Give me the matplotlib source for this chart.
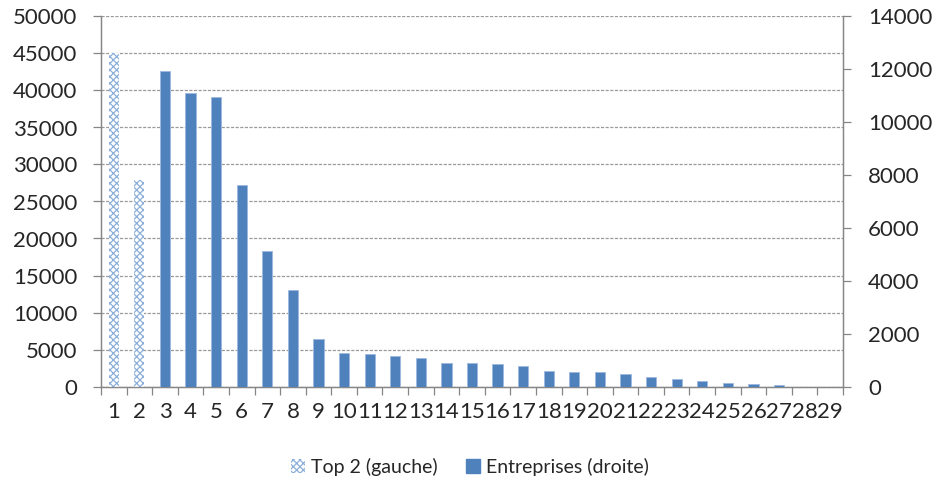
import matplotlib
matplotlib.use("Agg")
import matplotlib.pyplot as plt
from matplotlib.patches import Patch
import numpy as np

plt.rcParams['font.family'] = ['Lato', 'DejaVu Sans']
plt.rcParams['hatch.linewidth'] = 0.9

# Data
categories = list(range(1, 30))
top2_values = [45050, 27900]                      # left axis (categories 1-2)
entreprises_values = [11940, 11120, 10970, 7610, 5140, 3640, 1800, 1260, 1220,
                      1170, 1070, 880, 880, 840, 790, 590, 540, 540, 485, 350,
                      295, 200, 145, 95, 55, 0, 0]  # right axis (categories 3-29)
left_ticks = list(range(0, 50001, 5000))
right_ticks = list(range(0, 14001, 2000))

BLUE = '#4F81BD'
HATCH_BLUE = '#8DB0DB'
AXIS_GRAY = '#868686'
TEXT = '#262626'

fig = plt.figure(figsize=(9.4, 4.86), dpi=100)
ax = fig.add_axes([101/940, 1-386.5/486, (843-101)/940, 370/486])
ax2 = ax.twinx()

x_top2 = np.array(categories[:2])
x_ent = np.array(categories[2:])
width = 0.4

ax.bar(x_top2, top2_values, width=width, facecolor='white',
       edgecolor=HATCH_BLUE, hatch='xxxxx', linewidth=0, zorder=3)
ax2.bar(x_ent, entreprises_values, width=width, color=BLUE,
        edgecolor='#9DB9DD', linewidth=0.6, zorder=3)

ax.set_xlim(0.5, 29.5)
ax.set_ylim(0, 50000)
ax2.set_ylim(0, 14000)
ax.set_yticks(left_ticks)
ax2.set_yticks(right_ticks)

# Grid from the left axis
ax.yaxis.grid(True, linestyle=(0, (2.5, 1.2)), color='#9A9A9A', linewidth=0.9, zorder=0)
ax.set_axisbelow(True)

# Category labels with tick marks at category boundaries
ax.set_xticks(categories)
ax.set_xticklabels([str(c) for c in categories])
ax.set_xticks(np.arange(0.5, 29.6, 1), minor=True)
ax.tick_params(axis='x', which='major', length=0, pad=11, labelsize=16, labelcolor=TEXT)
ax.tick_params(axis='x', which='minor', length=6, width=0.9, color=AXIS_GRAY, direction='out')
ax.tick_params(axis='y', length=6, width=0.9, color=AXIS_GRAY, labelsize=16,
               labelcolor=TEXT, pad=11)
ax2.tick_params(axis='y', length=6, width=0.9, color=AXIS_GRAY, labelsize=16,
                labelcolor=TEXT, pad=12)

for a in (ax, ax2):
    a.spines['top'].set_visible(False)
    for s in ('left', 'right', 'bottom'):
        a.spines[s].set_color(AXIS_GRAY)
        a.spines[s].set_linewidth(0.9)

handles = [
    Patch(facecolor='white', edgecolor=HATCH_BLUE, hatch='xxxxx', linewidth=0,
          label='Top 2 (gauche)'),
    Patch(facecolor=BLUE, edgecolor=BLUE, label='Entreprises (droite)'),
]
fig.legend(handles=handles, loc='center', bbox_to_anchor=(0.5, 1-467/486),
           ncol=2, frameon=False, fontsize=14, handlelength=0.7, handleheight=0.7,
           handletextpad=0.3, columnspacing=1.5, labelcolor=TEXT)

fig.savefig('out.png', dpi=100)
